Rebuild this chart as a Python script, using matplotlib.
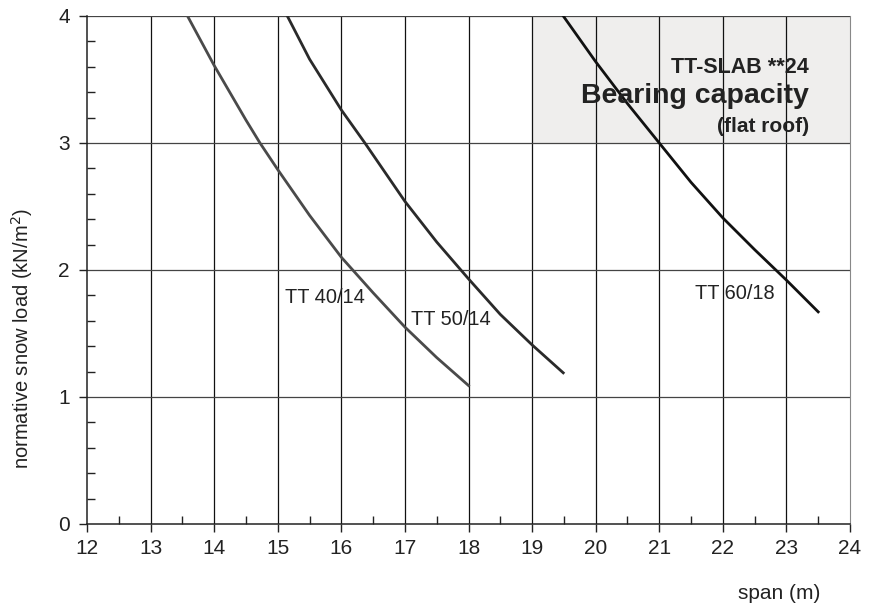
import numpy as np
import matplotlib.pyplot as plt
from matplotlib.ticker import MultipleLocator
from matplotlib.patches import Rectangle

plt.rcParams['font.family'] = ['Liberation Sans', 'DejaVu Sans']

# curves (span m, snow load kN/m2)
span_40 = [13.58, 14.0, 14.5, 14.72, 15.0, 15.5, 16.0, 16.5, 17.0, 17.5, 18.0]
load_40 = [4.0, 3.61, 3.18, 3.0, 2.79, 2.43, 2.10, 1.82, 1.55, 1.31, 1.09]

span_50 = [15.15, 15.5, 16.0, 16.37, 17.0, 17.5, 18.0, 18.5, 19.0, 19.49]
load_50 = [4.0, 3.66, 3.26, 3.0, 2.54, 2.22, 1.93, 1.65, 1.41, 1.19]

span_60 = [19.49, 20.0, 20.5, 21.0, 21.5, 22.0, 22.5, 23.0, 23.5]
load_60 = [4.0, 3.64, 3.31, 3.0, 2.69, 2.41, 2.16, 1.92, 1.67]

labels = ['TT 40/14', 'TT 50/14', 'TT 60/18']
label_pos = [(15.12, 1.738), (17.10, 1.567), (21.57, 1.772)]

fig = plt.figure(figsize=(8.79, 6.05), dpi=100)
ax = fig.add_axes([0.099, 0.134, 0.868, 0.8396])

ax.set_xlim(12, 24)
ax.set_ylim(0, 4)

# title box
ax.add_patch(Rectangle((19, 3), 5, 1, facecolor='#efeeed', edgecolor='none', zorder=0))

for v in range(13, 24):
    ax.axvline(v, color='#111111', lw=0.9, zorder=1)
for h in range(1, 5):
    ax.axhline(h, color='#444444', lw=0.9, zorder=1)

ax.plot(span_40, load_40, color='#4a4a4a', lw=2, zorder=3)
ax.plot(span_50, load_50, color='#2a2a2a', lw=2, zorder=3)
ax.plot(span_60, load_60, color='#111111', lw=2, zorder=3)

for txt, (x, y) in zip(labels, label_pos):
    ax.text(x, y, txt, fontsize=14.4, color='#222222', va='baseline', ha='left', zorder=4)

ax.text(23.35, 3.554, 'TT-SLAB **24', fontsize=15.5, fontweight='bold', ha='right', va='baseline', color='#222222')
ax.text(23.35, 3.312, 'Bearing capacity', fontsize=20.5, fontweight='bold', ha='right', va='baseline', color='#222222')
ax.text(23.35, 3.089, '(flat roof)', fontsize=15, fontweight='bold', ha='right', va='baseline', color='#222222')

ax.xaxis.set_major_locator(MultipleLocator(1))
ax.xaxis.set_minor_locator(MultipleLocator(0.5))
ax.yaxis.set_major_locator(MultipleLocator(1))
ax.yaxis.set_minor_locator(MultipleLocator(0.2))
ax.tick_params(which='major', direction='out', length=5.5, width=1, labelsize=15, colors='#222222')
ax.tick_params(axis='x', which='major', pad=5.5)
ax.tick_params(axis='y', which='major', pad=7)
ax.tick_params(which='minor', direction='in', length=6, width=1, color='#222222')

for s in ['left', 'bottom']:
    ax.spines[s].set_color('#222222')
    ax.spines[s].set_linewidth(1.1)
ax.spines['top'].set_visible(False)
ax.spines['right'].set_color('#888888')

fig.text(0.025, 0.4397, 'normative snow load (kN/m$^2$)', fontsize=14.5, rotation=90,
         ha='center', va='center', color='#222222')
fig.text(0.887, 0.0198, 'span (m)', fontsize=15, ha='center', va='center', color='#222222')

fig.savefig('out.png', dpi=100)
